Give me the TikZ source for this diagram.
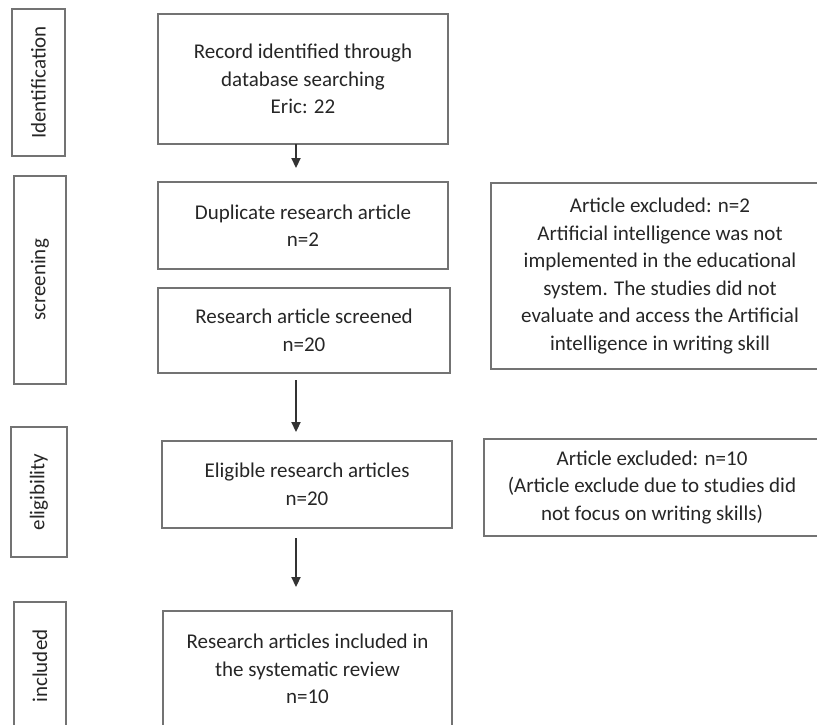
\documentclass[tikz,border=0pt]{standalone}
\usepackage{fontspec}
\setmainfont{Carlito}
\usetikzlibrary{arrows.meta}

\begin{document}
\begin{tikzpicture}[>={Triangle[length=6pt,width=5.5pt]},x=0.6pt,y=-0.6pt,
  font=\fontsize{12.6}{16.5}\selectfont,
  box/.style={draw=black!55,line width=0.9pt,inner sep=2pt,outer sep=0pt,align=center,text=black!85},
  phase/.style={box,rotate=90},
  arr/.style={->,line width=0.9pt,black!80}]
  \clip (0,0) rectangle (817,724);
  \useasboundingbox (0,0) rectangle (817,724);
  \node[phase,minimum width=88.2pt,minimum height=31.8pt] (identification) at (38.5,82.5) {Identification};
  \node[phase,minimum width=124.8pt,minimum height=31.2pt] (screening) at (40,280) {screening};
  \node[phase,minimum width=78pt,minimum height=33.6pt] (eligibility) at (39,492) {eligibility};
  \node[phase,minimum width=76.8pt,minimum height=31.2pt] (inclusion) at (40,666) {included};
  \node[box,minimum width=174pt,minimum height=78pt] (record) at (303,79) {Record identified through\\database searching\\Eric: 22};
  \node[box,minimum width=174pt,minimum height=52.2pt] (dup) at (303,225.5) {Duplicate research article\\n=2};
  \node[box,minimum width=175.2pt,minimum height=51pt] (screened) at (304,330.5) {Research article screened\\n=20};
  \node[box,minimum width=174pt,minimum height=52.2pt] (eligible) at (307,484.5) {Eligible research articles\\n=20};
  \node[box,minimum width=173.4pt,minimum height=69.6pt] (included) at (307.5,669) {Research articles included in\\the systematic review\\n=10};
  \node[box,minimum width=202.8pt,minimum height=111.6pt] (excl1) at (660,276) {Article excluded: n=2\\Artificial intelligence was not\\implemented in the educational\\system. The studies did not\\evaluate and access the Artificial\\intelligence in writing skill};
  \node[box,minimum width=201.6pt,minimum height=58.2pt] (excl2) at (652,487.5) {Article excluded: n=10\\(Article exclude due to studies did\\not focus on writing skills)};
  \coordinate (ax) at (296,0);
  \draw[arr,shorten >=8.4pt] (record.south -| ax) -- (dup.north -| ax);
  \draw[arr,shorten <=4.2pt,shorten >=5.4pt] (screened.south -| ax) -- (eligible.north -| ax);
  \draw[arr,shorten <=6pt,shorten >=14.4pt] (eligible.south -| ax) -- (included.north -| ax);
\end{tikzpicture}
\end{document}
